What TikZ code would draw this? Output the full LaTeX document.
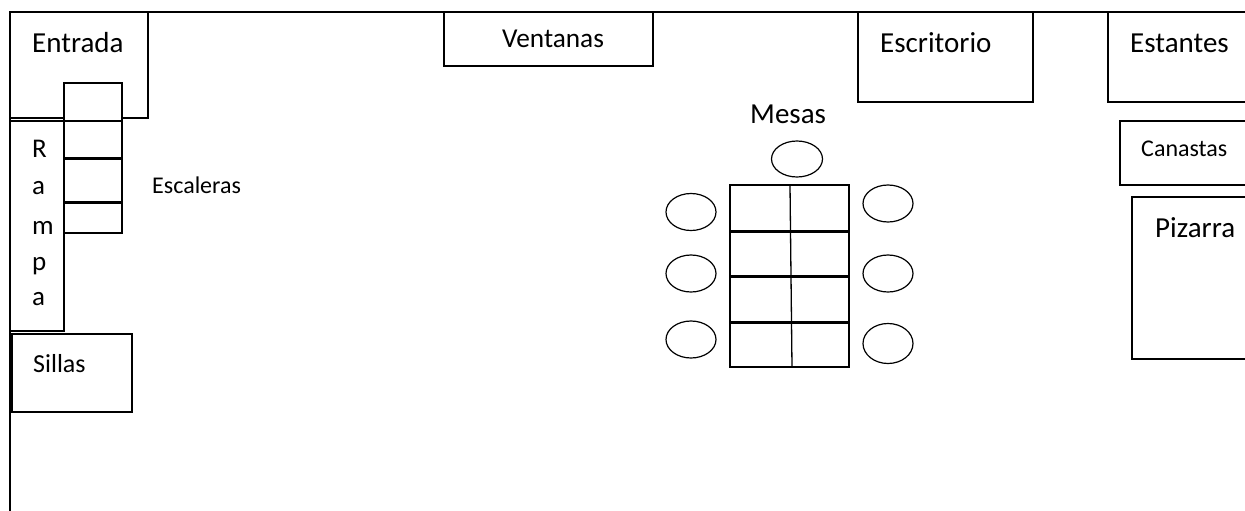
\documentclass[tikz,border=0pt]{standalone}
\usepackage{fontspec}
\setmainfont{Carlito}
\tikzset{
  px/.style={x=1pt,y=-1pt},
  wall/.style={draw=black,line width=1.4pt},
  box/.style={draw=black,line width=1.3pt,fill=white},
  barline/.style={draw=black,line width=3pt},
  rule/.style={draw=black,line width=1.3pt},
  seat/.style={draw=black,line width=1.2pt,fill=white},
  big/.style={inner sep=0pt,anchor=base west,font=\fontsize{29}{29}\selectfont},
  small/.style={inner sep=0pt,anchor=base west,font=\fontsize{24}{24}\selectfont},
  mid/.style={inner sep=0pt,anchor=base west,font=\fontsize{27}{27}\selectfont},
  tall/.style={inner sep=0pt,anchor=base west,font=\fontsize{27.3}{27.3}\selectfont}
}
\begin{document}
\begin{tikzpicture}[px]
\useasboundingbox (0,0) rectangle (1245,511);
\fill[white] (0,0) rectangle (1245,511);
% walls
\coordinate (wallBL) at (10,511);
\coordinate (wallTL) at (10,12);
\coordinate (wallTR) at (1246,12);
\draw[wall,line join=miter] (wallBL) -- (wallTL) -- (wallTR);
% boxes
\draw[box] (10,12) rectangle (148,118);
\draw[box] (10,121) rectangle (64,331);
\draw[box] (64,83) rectangle (122,233);
\coordinate (s1l) at (64,121); \coordinate (s1r) at (122,121);
\coordinate (s2l) at (64,158); \coordinate (s2r) at (122,158);
\coordinate (s3l) at (64,202); \coordinate (s3r) at (122,202);
\draw[rule] (s1l) -- (s1r);
\draw[barline] (s2l) -- (s2r);
\draw[barline] (s3l) -- (s3r);
\draw[box] (12,334) rectangle (132,412);
\draw[box] (444,12) rectangle (653,66);
\draw[box] (858,12) rectangle (1033,102);
\draw[box] (1108,12) rectangle (1248,102);
\draw[box] (1120,121) rectangle (1248,185);
\draw[box] (1132,197) rectangle (1248,359);
% table
\draw[box] (730,185) rectangle (849,367);
\coordinate (tv1) at (790,185); \coordinate (tv2) at (792,367);
\draw[rule] (tv1) -- (tv2);
\coordinate (t1l) at (730,231); \coordinate (t1r) at (849,231);
\coordinate (t2l) at (730,276); \coordinate (t2r) at (849,276);
\coordinate (t3l) at (730,322); \coordinate (t3r) at (849,322);
\draw[barline] (t1l) -- (t1r);
\draw[barline] (t2l) -- (t2r);
\draw[barline] (t3l) -- (t3r);
% chairs
\draw[seat] (797,159) ellipse [x radius=25.5,y radius=18];
\draw[seat] (691,212) ellipse [x radius=25,y radius=18.5];
\draw[seat] (691,273.5) ellipse [x radius=25,y radius=18.5];
\draw[seat] (691,339.5) ellipse [x radius=25,y radius=18.5];
\draw[seat] (888,203.5) ellipse [x radius=25,y radius=18.5];
\draw[seat] (888,273.5) ellipse [x radius=25,y radius=18.5];
\draw[seat] (888,343.5) ellipse [x radius=25,y radius=20];
% labels
\node[big] (entrada) at (32,53) {Entrada};
\node[small] (escaleras) at (152,193.5) {Escaleras};
\node[mid] (r1) at (32,157) {R};
\node[mid] (r2) at (32,194) {a};
\node[mid] (r3) at (32,234) {m};
\node[mid] (r4) at (32,270) {p};
\node[mid] (r5) at (32,305) {a};
\node[small,font=\fontsize{26}{26}\selectfont] (sillas) at (33,372) {Sillas};
\node[tall] (ventanas) at (502,48) {Ventanas};
\node[big] (escritorio) at (880,53) {Escritorio};
\node[big] (estantes) at (1130,53) {Estantes};
\node[small] (canastas) at (1141,156.5) {Canastas};
\node[big] (pizarra) at (1155,237) {Pizarra};
\node[big] (mesas) at (750,123) {Mesas};
\end{tikzpicture}
\end{document}
